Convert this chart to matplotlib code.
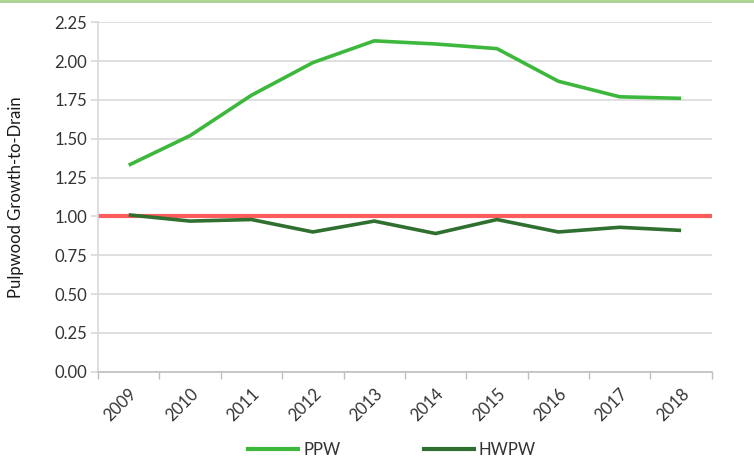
import numpy as np
import matplotlib
matplotlib.use('Agg')
import matplotlib.pyplot as plt
from matplotlib.lines import Line2D

years = ['2009', '2010', '2011', '2012', '2013', '2014', '2015', '2016', '2017', '2018']
ppw = [1.33, 1.52, 1.78, 1.99, 2.13, 2.11, 2.08, 1.87, 1.77, 1.76]
hwpw = [1.01, 0.97, 0.98, 0.90, 0.97, 0.89, 0.98, 0.90, 0.93, 0.91]
threshold = 1.0
yticks = [0.0, 0.25, 0.5, 0.75, 1.0, 1.25, 1.5, 1.75, 2.0, 2.25]

plt.rcParams['font.family'] = ['Lato', 'DejaVu Sans']

fig = plt.figure(figsize=(7.54, 4.63), dpi=100)
ax = fig.add_axes([0.13, 0.197, 0.814, 0.755])

x = np.arange(len(years))
ax.axhline(threshold, color='#ff4d4d', lw=3, alpha=0.9, zorder=2)
ax.plot(x, ppw, color='#3db83d', lw=2.6, zorder=3, solid_capstyle='butt')
ax.plot(x, hwpw, color='#2f6f2f', lw=2.6, zorder=3, solid_capstyle='butt')

ax.set_xlim(-0.5, len(years) - 0.5)
ax.set_ylim(0, 2.25)
ax.set_yticks(yticks)
ax.set_yticklabels([f'{v:.2f}' for v in yticks], fontsize=12, color='#333333')
ax.grid(axis='y', color='#d9d9d9', lw=1.2)
ax.set_axisbelow(True)

# category boundaries as ticks, labels at centers
ax.set_xticks(np.arange(-0.5, len(years), 1.0))
ax.set_xticklabels([])
ax.set_xticks(x, minor=True)
ax.set_xticklabels(years, minor=True, rotation=45, ha='right', va='top',
                   rotation_mode='anchor', fontsize=12, color='#333333')
ax.tick_params(axis='x', which='major', length=5, color='#bfbfbf', width=1)
ax.tick_params(axis='x', which='minor', length=0, pad=10)
ax.tick_params(axis='y', length=5, color='#d9d9d9', width=1.2, pad=3)

for s in ['top', 'right']:
    ax.spines[s].set_visible(False)
ax.spines['left'].set_color('#d9d9d9')
ax.spines['bottom'].set_color('#bfbfbf')
ax.spines['left'].set_linewidth(1.2)
ax.spines['bottom'].set_linewidth(1.2)

ax.set_ylabel('Pulpwood Growth-to-Drain', fontsize=12, color='#1a1a1a', labelpad=22)

handles = [Line2D([], [], color='#3db83d', lw=3), Line2D([], [], color='#2f6f2f', lw=3)]
fig.legend(handles, ['PPW', 'HWPW'], loc='center', bbox_to_anchor=(0.52, 0.028),
           ncol=2, frameon=False, fontsize=12, handlelength=3, columnspacing=5,
           labelcolor='#333333', handletextpad=0.3)

# thin green border line at top
fig.add_artist(Line2D([0, 1], [0.997, 0.997], transform=fig.transFigure,
                      color='#a9d18e', lw=2))

fig.savefig('out.png', dpi=100)
